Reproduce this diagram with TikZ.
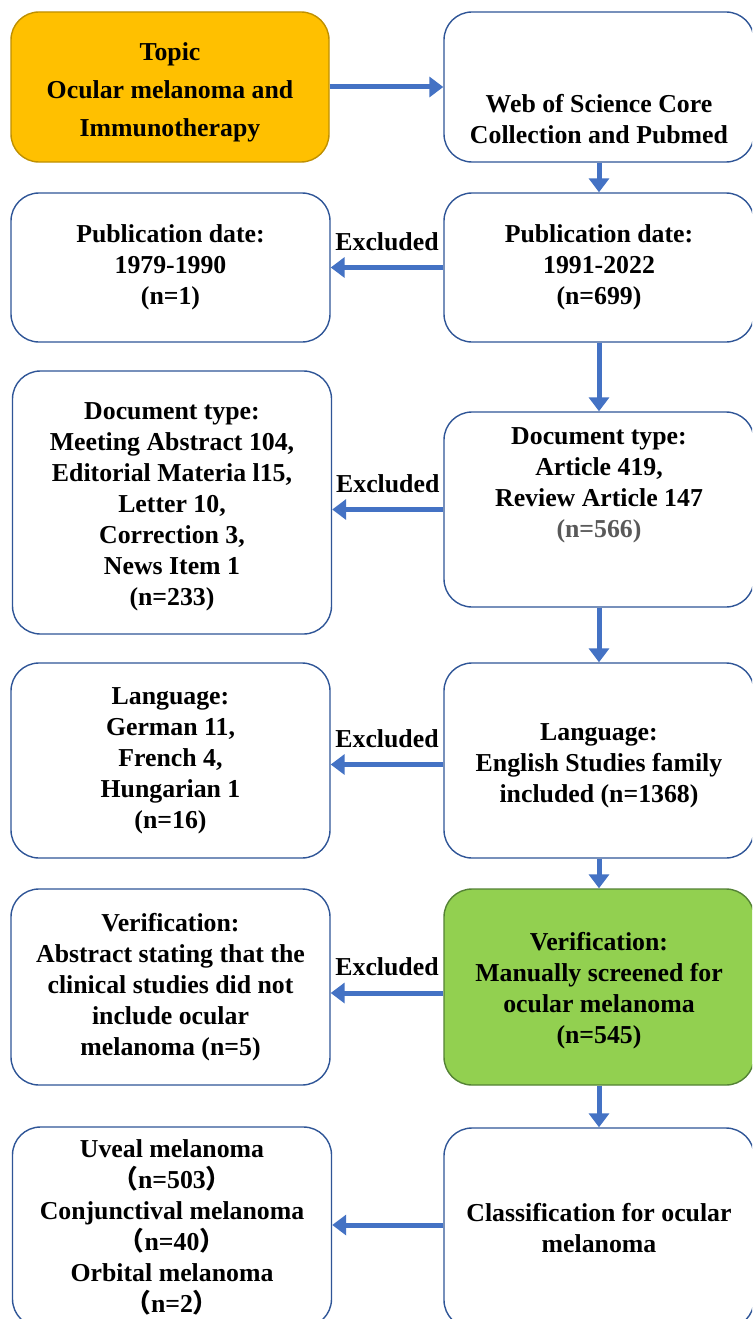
\documentclass[tikz,border=0pt]{standalone}
\usepackage{fontspec}
\setmainfont{Liberation Serif}
\newfontfamily\cjk{Noto Sans CJK SC}
\usetikzlibrary{arrows.meta}

\definecolor{boxblue}{HTML}{2F5597}
\definecolor{flowblue}{HTML}{4472C4}
\definecolor{topicfill}{HTML}{FFC000}
\definecolor{topicline}{HTML}{BF9000}
\definecolor{checkfill}{HTML}{92D050}
\definecolor{checkline}{HTML}{548235}
\definecolor{countgray}{HTML}{595959}

\newcommand{\wpar}[1]{{\cjk （}#1{\cjk ）}}

\begin{document}
\begin{tikzpicture}[x=1pt, y=-1pt,
  every node/.append style={align=center, text=black, inner sep=0pt},
  box/.style={draw=boxblue, line width=1.4pt, rounded corners=28pt, fill=white,
    font=\fontsize{25.8}{31}\selectfont\bfseries},
  leftbox/.style={box, minimum width=319pt},
  rightbox/.style={box, minimum width=310pt},
  flow/.style={draw=flowblue, line width=5pt, -{Triangle[length=14pt,width=20pt]}},
  excl/.style={font=\fontsize{25.8}{31}\selectfont\bfseries}]
\clip (0,0) rectangle (752,1319);
\fill[white] (0,0) rectangle (752,1319);

% top row
\node[box, fill=topicfill, draw=topicline, minimum width=318pt, minimum height=150pt,
  font=\fontsize{25.8}{38}\selectfont\bfseries] (topic) at (170,87)
  {\rule{0pt}{28pt}Topic\\Ocular melanoma and\\Immunotherapy};
\node[rightbox, minimum height=150pt] (wos) at (599,87)
  {\strut\\[29pt]Web of Science Core\\Collection and Pubmed};

% publication date
\node[leftbox, minimum height=149pt] (olddate) at (170.5,267.5)
  {Publication date:\\1979-1990\\(n=1)};
\node[rightbox, minimum height=149pt] (newdate) at (599,267.5)
  {Publication date:\\1991-2022\\(n=699)};

% document type
\node[leftbox, minimum height=263pt] (doctypeout) at (172,502.5)
  {\rule{0pt}{26pt}Document type:\\Meeting Abstract 104,\\Editorial Materia l15,\\Letter 10,\\Correction 3,\\News Item 1\\(n=233)};
\node[rightbox, minimum height=195pt] (doctypein) at (599,509.5)
  {Document type:\\Article 419,\\Review Article 147\\\textcolor{countgray}{(n=566)}\\[13pt]\strut};

% language
\node[leftbox, minimum height=195pt] (langout) at (170.5,760.5)
  {Language:\\German 11,\\French 4,\\Hungarian 1\\(n=16)};
\node[rightbox, minimum height=195pt] (langin) at (599,760.5)
  {\rule{0pt}{28pt}Language:\\English Studies family\\included (n=1368)};

% verification
\node[leftbox, minimum height=196pt] (checkout) at (170.5,987)
  {Verification:\\Abstract stating that the\\clinical studies did not\\include ocular\\melanoma (n=5)};
\node[rightbox, minimum height=196pt, fill=checkfill, draw=checkline] (checkin) at (599,987)
  {\rule{0pt}{26pt}Verification:\\Manually screened for\\ocular melanoma\\(n=545)};

% classification
\node[leftbox, minimum height=200pt] (classout) at (172,1227)
  {Uveal melanoma\\\wpar{n=503}\\Conjunctival melanoma\\\wpar{n=40}\\Orbital melanoma\\\wpar{n=2}};
\node[rightbox, minimum height=200pt] (classin) at (599,1228)
  {Classification for ocular\\melanoma};

% connectors
\draw[flow] (topic.east) -- (wos.west);
\draw[flow] (wos.south) -- (newdate.north);
\draw[flow] (newdate.south) -- (doctypein.north);
\draw[flow] (doctypein.south) -- (langin.north);
\draw[flow] (langin.south) -- (checkin.north);
\draw[flow] (checkin.south) -- (classin.north);

\draw[flow] (newdate.west) -- (newdate.west -| olddate.east)
  node[excl, midway, yshift=26pt] (dateexcl) {Excluded};
\draw[flow] (doctypein.west) -- (doctypein.west -| doctypeout.east)
  node[excl, midway, yshift=26pt] (typeexcl) {Excluded};
\draw[flow] ([yshift=-4pt]langin.west) -- ([yshift=-4pt]langin.west -| langout.east)
  node[excl, midway, yshift=26pt] (langexcl) {Excluded};
\draw[flow] ([yshift=-6pt]checkin.west) -- ([yshift=-6pt]checkin.west -| checkout.east)
  node[excl, midway, yshift=26pt] (checkexcl) {Excluded};
\draw[flow] ([yshift=3pt]classin.west) -- ([yshift=3pt]classin.west -| classout.east);
\end{tikzpicture}
\end{document}
